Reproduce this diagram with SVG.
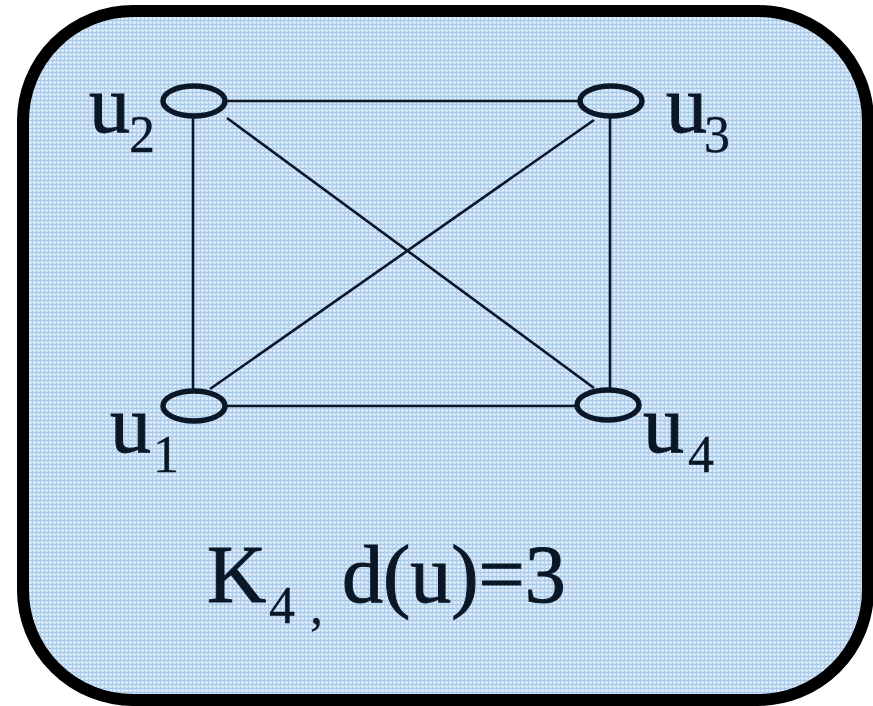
<svg xmlns="http://www.w3.org/2000/svg" width="873" height="706" viewBox="0 0 873 706">
  <defs>
    <pattern id="grid" x="0" y="0" width="4" height="4" patternUnits="userSpaceOnUse">
      <rect width="4" height="4" fill="#d0e3f5"/>
      <rect x="0" y="0" width="4" height="1" fill="#a5c8ea"/>
      <rect x="0" y="0" width="1" height="4" fill="#afcfee"/>
      <rect x="2" y="2" width="1" height="1" fill="#ffffff"/>
    </pattern>
  </defs>
  <style>
    .node { fill: none; stroke: #0a1726; stroke-width: 5.5; }
    .edge { stroke: #0a1726; stroke-width: 2.6; fill: none; }
    .lbl { font-family: "Liberation Serif", "Times New Roman", serif; fill: #0a1726; stroke: #0a1726; stroke-width: 1; font-size: 82px; }
    .sub { font-size: 52px; stroke-width: 0.3; }
  </style>
  <rect x="23" y="11" width="845" height="689" rx="110" ry="110" fill="url(#grid)" stroke="#000" stroke-width="12"/>
  <g id="edges">
    <line class="edge" x1="225" y1="101" x2="579" y2="101"/>
    <line class="edge" x1="225" y1="406" x2="577" y2="406"/>
    <line class="edge" x1="193" y1="117" x2="193" y2="390"/>
    <line class="edge" x1="610" y1="117" x2="610" y2="389"/>
    <line class="edge" x1="227" y1="118" x2="594" y2="388"/>
    <line class="edge" x1="594" y1="120" x2="210" y2="389"/>
  </g>
  <g id="u2">
    <ellipse class="node" cx="194" cy="101" rx="31" ry="15"/>
    <text class="lbl" x="89" y="132">u<tspan class="sub" x="129" dy="20">2</tspan></text>
  </g>
  <g id="u3">
    <ellipse class="node" cx="611" cy="101" rx="31" ry="15"/>
    <text class="lbl" x="666" y="132">u<tspan class="sub" x="704" dy="20">3</tspan></text>
  </g>
  <g id="u1">
    <ellipse class="node" cx="194" cy="406" rx="31" ry="15"/>
    <text class="lbl" x="110" y="452">u<tspan class="sub" x="153" dy="20">1</tspan></text>
  </g>
  <g id="u4">
    <ellipse class="node" cx="608" cy="405" rx="31" ry="15"/>
    <text class="lbl" x="643" y="452">u<tspan class="sub" x="688" dy="20">4</tspan></text>
  </g>
  <g id="caption">
    <text class="lbl" x="207" y="602" font-size="86">K<tspan class="sub" x="269" dy="21">4</tspan><tspan class="sub" x="310">,</tspan><tspan x="342" dy="-21">d(u)=3</tspan></text>
  </g>
</svg>
